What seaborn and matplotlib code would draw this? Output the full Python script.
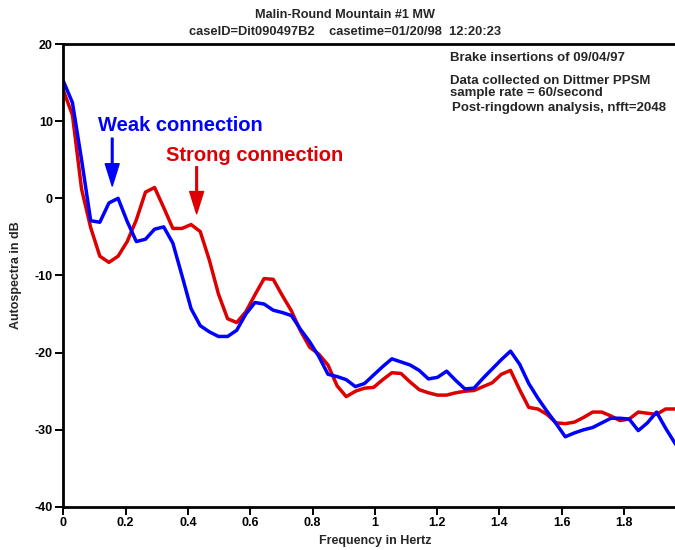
import numpy as np
import matplotlib
matplotlib.use("Agg")
import matplotlib.pyplot as plt
import pandas as pd
import seaborn as sns

# autospectra, one value per FFT bin (60/s, nfft=2048)
weak_db = [15.2, 12.4, 5.0, -2.9, -3.1, -0.6, 0.0, -3.0, -5.6, -5.3,
           -4.0, -3.7, -5.8, -10.0, -14.3, -16.5, -17.3, -17.9, -17.9, -17.1,
           -15.0, -13.5, -13.7, -14.5, -14.8, -15.2, -17.0, -18.6, -20.5, -22.8,
           -23.1, -23.5, -24.4, -24.0, -22.9, -21.8, -20.8, -21.2, -21.6, -22.3,
           -23.4, -23.2, -22.4, -23.6, -24.7, -24.6, -23.3, -22.1, -20.9, -19.8,
           -21.5, -24.0, -25.9, -27.6, -29.2, -30.9, -30.4, -30.0, -29.7, -29.1,
           -28.5, -28.5, -28.6, -30.1, -29.1, -27.7, -29.8, -31.7, -33.5]
strong_db = [14.0, 10.8, 1.2, -3.8, -7.5, -8.3, -7.5, -5.6, -2.8, 0.8,
             1.4, -1.2, -3.9, -3.9, -3.4, -4.3, -8.0, -12.4, -15.6, -16.1,
             -14.7, -12.5, -10.4, -10.5, -12.6, -14.6, -17.2, -19.3, -20.2, -21.6,
             -24.3, -25.7, -25.0, -24.6, -24.5, -23.5, -22.6, -22.7, -23.8, -24.8,
             -25.2, -25.5, -25.5, -25.2, -25.0, -24.9, -24.4, -23.9, -22.8, -22.3,
             -24.8, -27.1, -27.3, -28.0, -29.1, -29.2, -29.0, -28.4, -27.7, -27.7,
             -28.2, -28.8, -28.6, -27.7, -27.85, -28.0, -27.3, -27.3, -27.3]
freq = np.arange(len(weak_db)) * 60 / 2048

x_ticks = [0, 0.2, 0.4, 0.6, 0.8, 1, 1.2, 1.4, 1.6, 1.8, 2]
x_ticklabels = ["0", "0.2", "0.4", "0.6", "0.8", "1", "1.2", "1.4", "1.6", "1.8", "2"]
y_ticks = [-40, -30, -20, -10, 0, 10, 20]

df = pd.concat([
    pd.DataFrame({"freq": freq, "db": weak_db, "case": "Weak connection"}),
    pd.DataFrame({"freq": freq, "db": strong_db, "case": "Strong connection"}),
])

sns.set_style("white")
plt.rcParams["font.family"] = ["Liberation Sans", "DejaVu Sans"]
plt.rcParams["font.weight"] = "bold"
plt.rcParams["axes.unicode_minus"] = False

BLUE = "#0000ff"
RED = "#dd0000"

fig = plt.figure(figsize=(6.75, 5.5), dpi=100)
ax = fig.add_axes([0.0938, 0.0782, 0.923, 0.8418])

# red drawn first, blue on top
sns.lineplot(data=df, x="freq", y="db", hue="case",
             hue_order=["Strong connection", "Weak connection"],
             palette={"Weak connection": BLUE, "Strong connection": RED},
             linewidth=2.5, legend=False, ax=ax)

ax.set_xlim(0, 2)
ax.set_ylim(-40, 20)
ax.set_xticks(x_ticks)
ax.set_xticklabels(x_ticklabels)
ax.set_yticks(y_ticks)
ax.tick_params(direction="out", length=5.5, width=1.4, pad=2,
               labelsize=9, left=True, bottom=True, colors="black")
for lab in ax.get_xticklabels() + ax.get_yticklabels():
    lab.set_fontweight("bold")
for side in ["left", "bottom", "top", "right"]:
    ax.spines[side].set_linewidth(2)
    ax.spines[side].set_color("black")

ax.set_xlabel("Frequency in Hertz", fontsize=9, fontweight="bold", labelpad=4)
ax.set_ylabel("Autospectra in dB", fontsize=9, fontweight="bold", labelpad=9)

# annotations
ax.text(0.112, 9.5, "Weak connection", color=BLUE, fontsize=14.5,
        fontweight="bold", va="center", ha="left")
ax.text(0.33, 5.6, "Strong connection", color=RED, fontsize=14.5,
        fontweight="bold", va="center", ha="left")
ax.annotate("", xy=(0.157, 1.6), xytext=(0.157, 7.8),
            arrowprops=dict(facecolor=BLUE, edgecolor=BLUE, width=1.2,
                            headwidth=10, headlength=16, shrink=0))
ax.annotate("", xy=(0.428, -2.0), xytext=(0.428, 4.1),
            arrowprops=dict(facecolor=RED, edgecolor=RED, width=1.2,
                            headwidth=10, headlength=16, shrink=0))

# header text
fig.text(345 / 675, 1 - 15 / 550, "Malin-Round Mountain #1 MW",
         ha="center", va="center", fontsize=9.1, fontweight="bold")
fig.text(345 / 675, 1 - 32 / 550,
         "caseID=Dit090497B2    casetime=01/20/98  12:20:23",
         ha="center", va="center", fontsize=9.3, fontweight="bold")

fig.text(450 / 675, 1 - 58 / 550, "Brake insertions of 09/04/97",
         ha="left", va="center", fontsize=9.5, fontweight="bold")
fig.text(450 / 675, 1 - 81 / 550, "Data collected on Dittmer PPSM",
         ha="left", va="center", fontsize=9.5, fontweight="bold")
fig.text(450 / 675, 1 - 93 / 550, "sample rate = 60/second",
         ha="left", va="center", fontsize=9.5, fontweight="bold")
fig.text(452 / 675, 1 - 108 / 550, "Post-ringdown analysis, nfft=2048",
         ha="left", va="center", fontsize=9.5, fontweight="bold")

fig.savefig("out.png", dpi=100)
